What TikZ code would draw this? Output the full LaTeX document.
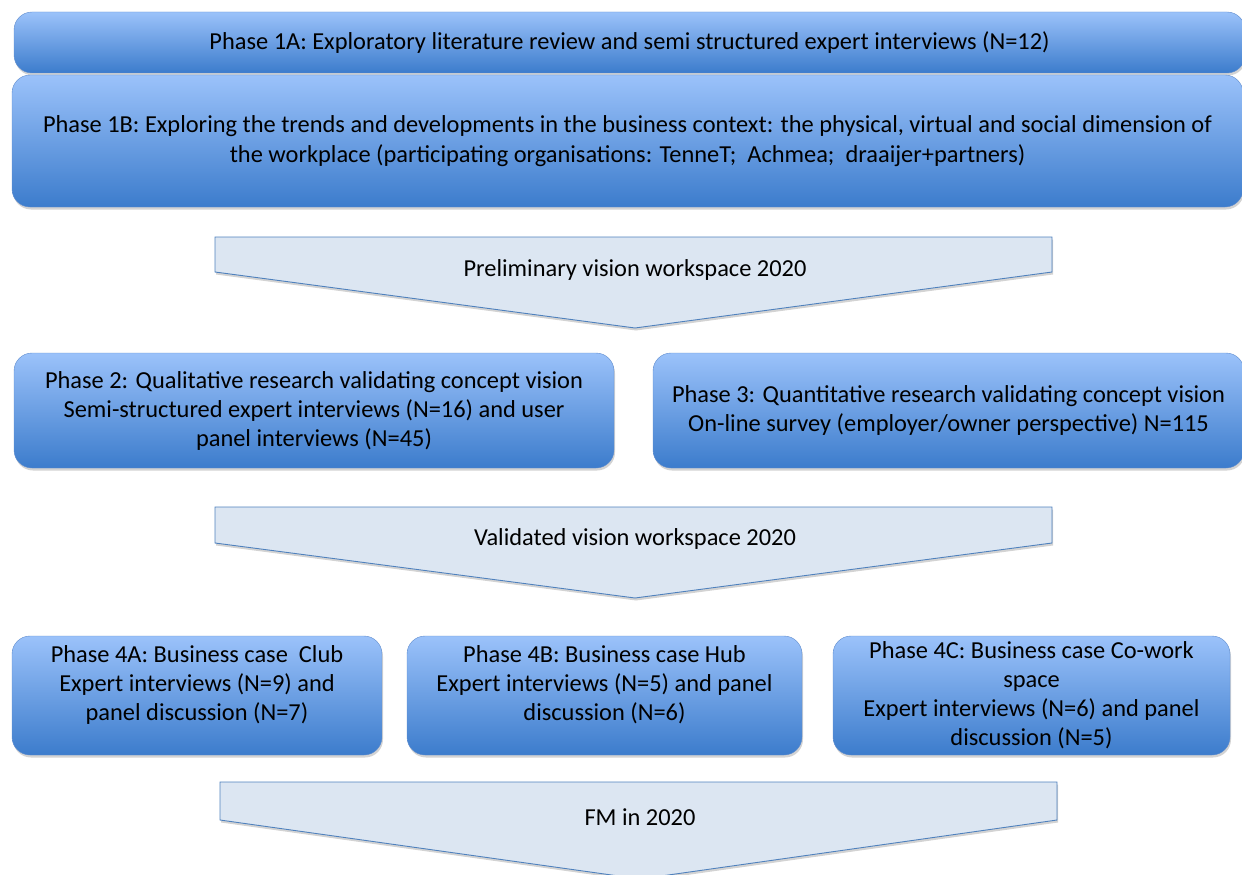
\documentclass[tikz,border=0pt]{standalone}
\usepackage{fontspec}
\setmainfont{Carlito}
\usetikzlibrary{shadows}
\definecolor{boven}{RGB}{155,194,250}
\definecolor{onder}{RGB}{60,124,204}
\definecolor{rand}{RGB}{95,140,205}
\definecolor{pijlvul}{RGB}{220,230,242}
\definecolor{pijlrand}{RGB}{79,129,189}
\begin{document}
\begin{tikzpicture}[x=1pt, y=-1pt,
    boite/.style={draw=rand, rounded corners=18pt, top color=boven, bottom color=onder, align=center, inner sep=0pt,
        drop shadow={opacity=0.35, shadow xshift=1pt, shadow yshift=-2.5pt}},
    fleche/.style={draw=pijlrand, fill=pijlvul, line width=0.9pt,
        drop shadow={opacity=0.35, shadow xshift=1pt, shadow yshift=-2.5pt}},
    every node/.style={font=\fontsize{24.4}{29}\selectfont}]
    \useasboundingbox (0,0) rectangle (1242,875);
    \clip (0,0) rectangle (1242,875);

    \node[boite, minimum width=1231, minimum height=61] (f1a) at (629.5, 42.5)
        {Phase 1A: Exploratory literature review and semi structured expert interviews (N=12)};
    \node[boite, minimum width=1231, minimum height=132] (f1b) at (627.5, 141)
        {Phase 1B: Exploring the trends and developments in the business context: the physical, virtual and social dimension of\\[1pt]
         the workplace (participating organisations: TenneT; \ Achmea; \ draaijer+partners)};

    \draw[fleche] (215,237) -- (1052,237) -- (1052,272) -- (635,328) -- (215,272) -- cycle;
    \node (v1) at (635,270) {Preliminary vision workspace 2020};

    \node[boite, minimum width=600, minimum height=115] (f2) at (314, 410.5)
        {Phase 2: Qualitative research validating concept vision\\ Semi-structured expert interviews (N=16) and user\\ panel interviews (N=45)};
    \node[boite, minimum width=591, minimum height=115] (f3) at (948.5, 410.5)
        {Phase 3: Quantitative research validating concept vision\\ On-line survey (employer/owner perspective) N=115};

    \draw[fleche] (215,507) -- (1052,507) -- (1052,543) -- (635,598) -- (215,543) -- cycle;
    \node (v2) at (635,539) {Validated vision workspace 2020};

    \node[boite, minimum width=370, minimum height=119] (f4a) at (197, 695.5)
        {Phase 4A: Business case \ Club\\ Expert interviews (N=9) and\\ panel discussion (N=7)\\[-12pt] \strut};
    \node[boite, minimum width=395, minimum height=119] (f4b) at (604.5, 695.5)
        {Phase 4B: Business case Hub\\ Expert interviews (N=5) and panel\\ discussion (N=6)\\[-12pt] \strut};
    \node[boite, minimum width=397, minimum height=119] (f4c) at (1031.5, 695.5)
        {Phase 4C: Business case Co-work\\ space\\ Expert interviews (N=6) and panel\\ discussion (N=5)};

    \draw[fleche] (220,782) -- (1057,782) -- (1057,820) -- (640,879) -- (220,820) -- cycle;
    \node (fm) at (640,817) {FM in 2020};
\end{tikzpicture}
\end{document}
